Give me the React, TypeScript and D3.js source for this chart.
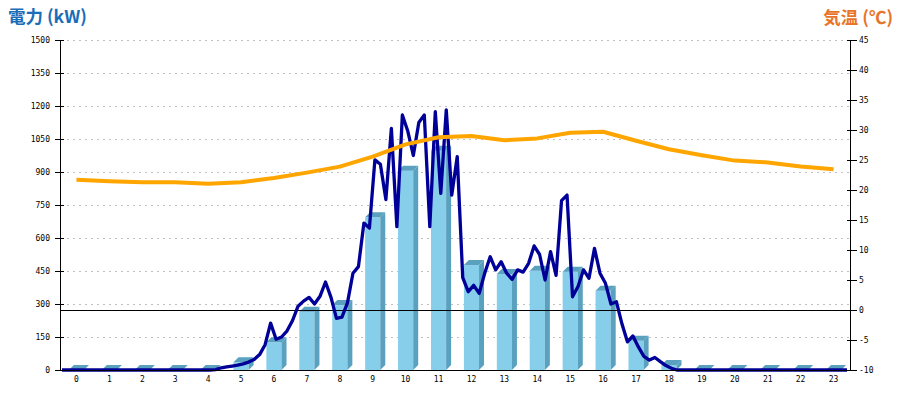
import * as d3 from 'd3';

// hourly categories and values
const hours = d3.range(0, 24);
const hourlyKw = [0, 0, 0, 0, 0, 35, 126, 265, 295, 694, 906, 997, 477, 436, 451, 447, 360, 133, 23, 0, 0, 0, 0, 0];
const tempC = [21.7, 21.45, 21.3, 21.3, 21.05, 21.3, 22.0, 22.9, 23.9, 25.55, 27.6, 28.8, 29.0, 28.3, 28.6, 29.55, 29.7, 28.2, 26.8, 25.8, 24.9, 24.6, 23.9, 23.45];

// 10 minute power readings (kW)
const minutes = d3.range(0, 1440, 10);
const powerKw = [
  0, 0, 0, 0, 0, 0, 0, 0, 0, 0, 0, 0, 0, 0, 0, 0, 0, 0, 0, 0, 0, 0, 0, 0, 0, 0, 0, 0,
  2, 10, 14, 18, 22, 28, 36, 48, 70, 115, 213, 140, 150, 178, 225, 290, 313, 330, 300, 335,
  400, 330, 235, 240, 305, 440, 470, 668, 645, 955, 935, 775, 1098, 652, 1159, 1085, 975, 1125,
  1159, 652, 1174, 803, 1182, 795, 970, 420, 356, 385, 348, 440, 515, 455, 492, 440, 412, 455,
  445, 485, 564, 525, 409, 538, 430, 770, 795, 333, 380, 455, 417, 553, 440, 394, 300, 310,
  210, 128, 155, 105, 62, 45, 57, 38, 20, 8,
  0, 0, 0, 0, 0, 0, 0, 0, 0, 0, 0, 0, 0, 0, 0, 0, 0, 0, 0, 0, 0, 0, 0, 0, 0, 0, 0, 0, 0, 0, 0, 0,
];

const powerTicks = [0, 150, 300, 450, 600, 750, 900, 1050, 1200, 1350, 1500];
const tempTicks = [-10, -5, 0, 5, 10, 15, 20, 25, 30, 35, 40, 45];

const W = 900;
const H = 400;
const left = 60;
const right = 850;
const top = 40;
const bottom = 370;

const tickFont = '"DejaVu Sans Mono", monospace';
const titleFont = '"Noto Sans CJK JP", "Noto Sans", sans-serif';

export default function App() {
  const x = d3.scaleBand<number>().domain(hours).range([left, right]);
  const xt = d3.scaleLinear().domain([0, 1430]).range([62, 847]);
  const yP = d3.scaleLinear().domain([0, 1500]).range([bottom, top]);
  const yT = d3.scaleLinear().domain([-10, 45]).range([bottom, top]);

  const fw = x.bandwidth() * 0.46;
  const d = 5;

  const powerLine = d3
    .line<number>()
    .x((_, i) => xt(minutes[i]))
    .y((v) => yP(v));
  const tempLine = d3
    .line<number>()
    .x((_, i) => x(hours[i])! + x.bandwidth() / 2)
    .y((v) => yT(v));

  return (
    <div style={{ position: 'absolute', left: 0, top: 0 }}>
      <svg width={W} height={H} style={{ display: 'block', background: '#fff' }}>
        {/* grid */}
        {powerTicks.slice(1).map((t) => (
          <line
            key={'g' + t}
            x1={left + 1}
            x2={right}
            y1={Math.round(yP(t)) + 0.5}
            y2={Math.round(yP(t)) + 0.5}
            stroke="#c0c0c0"
            strokeDasharray="2,4"
          />
        ))}

        {/* bars */}
        {hourlyKw.map((v, i) => {
          const x0 = x(hours[i])! + x.bandwidth() / 2 - fw / 2;
          const y = yP(v);
          const b = yP(0);
          return (
            <g key={'b' + i}>
              <rect x={x0} y={y} width={fw} height={b - y} fill="#87CEEB" />
              <polygon
                points={`${x0 + fw},${y} ${x0 + fw + d},${y - d} ${x0 + fw + d},${b - d} ${x0 + fw},${b}`}
                fill="#5AA1BF"
              />
              <polygon
                points={`${x0},${y} ${x0 + d},${y - d} ${x0 + fw + d},${y - d} ${x0 + fw},${y}`}
                fill="#5AA1BF"
              />
            </g>
          );
        })}

        {/* 0 degree line */}
        <line x1={left} x2={right} y1={yT(0) + 0.5} y2={yT(0) + 0.5} stroke="#000" />

        {/* power line */}
        <path d={powerLine(powerKw)!} fill="none" stroke="#000099" strokeWidth={3.3} strokeLinejoin="round" />

        {/* temperature line */}
        <path d={tempLine(tempC)!} fill="none" stroke="#FFA500" strokeWidth={4} strokeLinejoin="round" />

        {/* axes */}
        <line x1={left + 0.5} x2={left + 0.5} y1={top} y2={bottom} stroke="#000" />
        <line x1={right + 0.5} x2={right + 0.5} y1={top} y2={bottom} stroke="#000" />
        <line x1={left} x2={right + 1} y1={bottom + 0.5} y2={bottom + 0.5} stroke="#000" />

        {powerTicks.map((t) => (
          <g key={'l' + t}>
            <line x1={55} x2={64} y1={Math.round(yP(t)) + 0.5} y2={Math.round(yP(t)) + 0.5} stroke="#000" />
            <text x={50} y={yP(t) + 3} textAnchor="end" fontFamily={tickFont} fontSize={8} fill="#000">
              {t}
            </text>
          </g>
        ))}

        {tempTicks.map((t) => (
          <g key={'r' + t}>
            <line x1={847} x2={857} y1={Math.round(yT(t)) + 0.5} y2={Math.round(yT(t)) + 0.5} stroke="#000" />
            <text x={859} y={yT(t) + 3} textAnchor="start" fontFamily={tickFont} fontSize={8} fill="#000">
              {String(t)}
            </text>
          </g>
        ))}

        {hours.map((h) => (
          <text
            key={'x' + h}
            x={x(h)! + x.bandwidth() / 2}
            y={382}
            textAnchor="middle"
            fontFamily={tickFont}
            fontSize={8}
            fill="#000"
          >
            {h}
          </text>
        ))}

        {/* titles */}
        <text x={8} y={23} fontFamily={titleFont} fontWeight="bold" fontSize={17.5} fill="#1A6DB8">
          電力 (kW)
        </text>
        <text x={893} y={24} textAnchor="end" fontFamily={titleFont} fontWeight="bold" fontSize={17.5} fill="#E8742A">
          気温 (℃)
        </text>
      </svg>
    </div>
  );
}
